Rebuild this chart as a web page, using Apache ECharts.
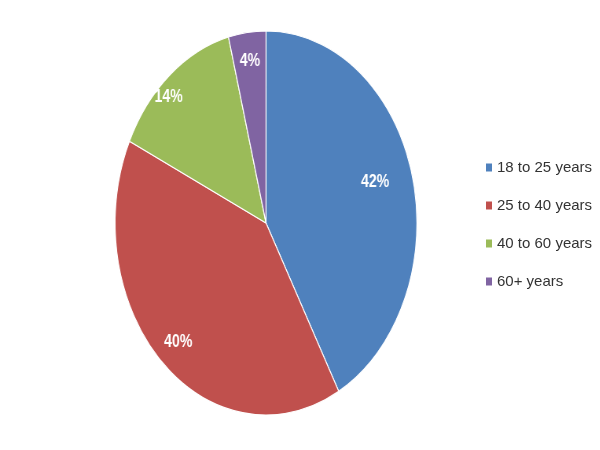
<!DOCTYPE html>
<html>
<head>
<meta charset="utf-8">
<script src="https://cdn.jsdelivr.net/npm/echarts@6/dist/echarts.min.js"></script>
<style>
  html, body { margin: 0; padding: 0; background: #fff; }
  #wrap { position: relative; width: 600px; height: 450px; overflow: hidden; }
  /* the original pie is an ellipse, so the pie layer is squeezed horizontally */
  #pie { position: absolute; left: 0; top: 0; width: 600px; height: 450px;
         transform-origin: 0 0; transform: scaleX(0.786); }
  #legend { position: absolute; left: 0; top: 0; width: 600px; height: 450px; }
</style>
</head>
<body>
<div id="wrap">
  <div id="pie"></div>
  <div id="legend"></div>
</div>
<script>
var ageGroups = ['18 to 25 years', '25 to 40 years', '40 to 60 years', '60+ years'];
var shares = [42, 40, 14, 4];
var colors = ['#4F81BD', '#C0504D', '#9BBB59', '#8064A2'];

var sx = 0.786;

function buildData() {
    var out = [];
    for (var i = 0; i < ageGroups.length; i++) {
        out.push({ name: ageGroups[i], value: shares[i] });
    }
    return out;
}

// pie layer
var pieChart = echarts.init(document.getElementById('pie'), null, { renderer: 'canvas' });
// small nudges so the labels sit where Excel put them
var labelPad = [[0, 38, 12, 0], [0, 0, 0, 0], [0, 40, 0, 0], [0, 0, 16, 0]];
var labelData = buildData().map(function (d, i) {
    d.label = { padding: labelPad[i] };
    return d;
});
pieChart.setOption({
    animation: false,
    color: colors,
    series: [
        {
            type: 'pie',
            center: [266 / sx, 223],
            radius: 192,
            startAngle: 90,
            clockwise: true,
            data: buildData(),
            label: { show: false },
            labelLine: { show: false },
            itemStyle: { borderColor: '#fff', borderWidth: 1.2 },
            emphasis: { disabled: true }
        },
        {
            // transparent twin, only used to place the percent labels further out
            type: 'pie',
            center: [266 / sx, 223],
            radius: 320,
            startAngle: 90,
            clockwise: true,
            silent: true,
            z: 5,
            data: labelData,
            itemStyle: { color: 'rgba(0,0,0,0)', borderWidth: 0 },
            label: {
                show: true,
                position: 'inside',
                formatter: '{c}%',
                color: '#fff',
                fontSize: 18,
                fontWeight: 'bold',
                fontFamily: 'Liberation Sans, Arial, sans-serif'
            },
            labelLine: { show: false },
            emphasis: { disabled: true }
        }
    ]
});

// legend layer
var legendChart = echarts.init(document.getElementById('legend'));
legendChart.setOption({
    animation: false,
    color: colors,
    legend: {
        orient: 'vertical',
        left: 481,
        top: 155,
        itemWidth: 6,
        itemHeight: 8,
        itemGap: 23,
        icon: 'rect',
        selectedMode: false,
        textStyle: {
            color: '#333',
            fontSize: 15,
            fontFamily: 'Liberation Sans, Arial, sans-serif'
        },
        data: ageGroups
    },
    series: [{
        type: 'pie',
        center: [-200, -200],
        radius: 1,
        silent: true,
        label: { show: false },
        data: buildData()
    }]
});
</script>
</body>
</html>
